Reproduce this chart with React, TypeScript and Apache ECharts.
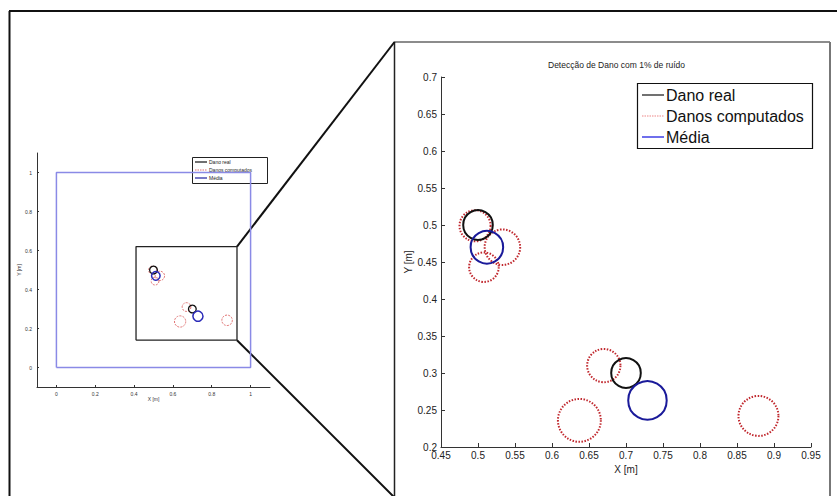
import React, { useEffect, useRef } from "react";
import * as echarts from "echarts";

// ---- data ----
const BIG_X_TICKS = [0.45, 0.5, 0.55, 0.6, 0.65, 0.7, 0.75, 0.8, 0.85, 0.9, 0.95];
const BIG_Y_TICKS = [0.2, 0.25, 0.3, 0.35, 0.4, 0.45, 0.5, 0.55, 0.6, 0.65, 0.7];
const SMALL_TICKS = [0, 0.2, 0.4, 0.6, 0.8, 1];

// [x, y, radius] in metres
const realDamages = [
  [0.5, 0.5, 0.02],
  [0.7, 0.3, 0.02],
];
const computedDamages = [
  [0.496, 0.499, 0.021],
  [0.533, 0.47, 0.024],
  [0.508, 0.443, 0.02],
  [0.67, 0.31, 0.0225],
  [0.637, 0.236, 0.029],
  [0.879, 0.242, 0.027],
];
const meanDamages = [
  [0.512, 0.47, 0.022],
  [0.729, 0.263, 0.026],
];
const plateOutline = [
  [0, 0],
  [1, 0],
  [1, 1],
  [0, 1],
  [0, 0],
];
const zoomWindow = [
  [0.41, 0.14],
  [0.93, 0.14],
  [0.93, 0.62],
  [0.41, 0.62],
  [0.41, 0.14],
];
const legendNames = ["Dano real", "Danos computados", "Média"];
const titleText = "Detecção de Dano com 1% de ruído";

const FONT = "'Liberation Sans', Arial, sans-serif";

function circleSeries(data: number[][], grid: number, stroke: string, lineWidth: number, dash?: number[]) {
  return {
    type: "custom",
    xAxisIndex: grid,
    yAxisIndex: grid,
    data,
    encode: { x: 0, y: 1 },
    silent: true,
    renderItem: (_p: any, api: any) => {
      const c = api.coord([api.value(0), api.value(1)]);
      const s = api.size([api.value(2), api.value(2)]);
      return {
        type: "circle",
        shape: { cx: c[0], cy: c[1], r: s[0] },
        style: { fill: "none", stroke, lineWidth, lineDash: dash },
      };
    },
  };
}

const fmt = (v: number) => String(+v.toFixed(2));

export default function App() {
  const ref = useRef<HTMLDivElement>(null);
  useEffect(() => {
    const chart = echarts.init(ref.current!, null, { renderer: "svg" });
    const axisLine = { show: true, onZero: false, lineStyle: { color: "#333", width: 1 } };
    chart.setOption({
      animation: false,
      backgroundColor: "#fff",
      textStyle: { fontFamily: FONT },
      title: {
        text: titleText,
        left: 548,
        top: 60,
        padding: 0,
        textStyle: { fontSize: 8.5, fontWeight: "normal", color: "#222", fontFamily: FONT },
      },
      grid: [
        { left: 441, top: 77, width: 370, height: 370 },
        { left: 37, top: 153, width: 233, height: 234 },
      ],
      xAxis: [
        {
          type: "value",
          gridIndex: 0,
          min: 0.45,
          max: 0.95,
          interval: 0.05,
          axisLine,
          axisTick: { inside: true, length: 4, customValues: BIG_X_TICKS, lineStyle: { color: "#333" } },
          axisLabel: { fontSize: 10, color: "#222", margin: 3, customValues: BIG_X_TICKS, formatter: fmt },
          splitLine: { show: false },
          name: "X [m]",
          nameLocation: "middle",
          nameGap: 15,
          nameTextStyle: { fontSize: 10, color: "#222" },
        },
        {
          type: "value",
          gridIndex: 1,
          min: -0.1,
          max: 1.1,
          axisLine,
          axisTick: { inside: true, length: 2, customValues: SMALL_TICKS, lineStyle: { color: "#333" } },
          axisLabel: { fontSize: 5, color: "#333", margin: 4, customValues: SMALL_TICKS, formatter: fmt },
          splitLine: { show: false },
          name: "X [m]",
          nameLocation: "middle",
          nameGap: 9,
          nameTextStyle: { fontSize: 5, color: "#333" },
        },
      ],
      yAxis: [
        {
          type: "value",
          gridIndex: 0,
          min: 0.2,
          max: 0.7,
          interval: 0.05,
          axisLine,
          axisTick: { inside: true, length: 4, customValues: BIG_Y_TICKS, lineStyle: { color: "#333" } },
          axisLabel: { fontSize: 10, color: "#222", margin: 4, customValues: BIG_Y_TICKS, formatter: fmt },
          splitLine: { show: false },
          name: "Y [m]",
          nameLocation: "middle",
          nameGap: 28,
          nameTextStyle: { fontSize: 10, color: "#222" },
        },
        {
          type: "value",
          gridIndex: 1,
          min: -0.1,
          max: 1.1,
          axisLine,
          axisTick: { inside: true, length: 2, customValues: SMALL_TICKS, lineStyle: { color: "#333" } },
          axisLabel: { fontSize: 5, color: "#333", margin: 5, customValues: SMALL_TICKS, formatter: fmt },
          splitLine: { show: false },
          name: "Y [m]",
          nameLocation: "middle",
          nameGap: 13,
          nameTextStyle: { fontSize: 5, color: "#333" },
        },
      ],
      series: [
        circleSeries(computedDamages, 0, "#c0272d", 2, [1.5, 1.5]),
        circleSeries(realDamages, 0, "#111", 2),
        circleSeries(meanDamages, 0, "#1a1a9a", 2),
        {
          type: "line",
          xAxisIndex: 1,
          yAxisIndex: 1,
          data: plateOutline,
          showSymbol: false,
          silent: true,
          lineStyle: { color: "#8a8ae6", width: 1.5 },
        },
        {
          type: "line",
          xAxisIndex: 1,
          yAxisIndex: 1,
          data: zoomWindow,
          showSymbol: false,
          silent: true,
          lineStyle: { color: "#222", width: 1.3 },
        },
        circleSeries(computedDamages, 1, "#e07070", 1, [2, 1.2]),
        circleSeries(realDamages, 1, "#111", 1.3),
        circleSeries(meanDamages, 1, "#2a2ab8", 1.5),
      ],
    });

    const pTop = chart.convertToPixel({ gridIndex: 1 } as any, [zoomWindow[2][0], zoomWindow[2][1]]) as number[];
    const pBot = chart.convertToPixel({ gridIndex: 1 } as any, [zoomWindow[1][0], zoomWindow[1][1]]) as number[];

    const legendColors = ["#111", "#e88", "#1010e0"];
    const legendDash: (number[] | undefined)[] = [undefined, [1.5, 1], undefined];
    const smallColors = ["#111", "#e07070", "#2020a0"];

    chart.setOption({
      graphic: [
        // outer frame
        { type: "line", shape: { x1: 9, y1: 11, x2: 837, y2: 11 }, style: { stroke: "#111", lineWidth: 2 } },
        { type: "line", shape: { x1: 9.5, y1: 11, x2: 9.5, y2: 496 }, style: { stroke: "#111", lineWidth: 2 } },
        // zoom panel frame
        { type: "line", shape: { x1: 394, y1: 42, x2: 830, y2: 42 }, style: { stroke: "#666", lineWidth: 1.5 } },
        { type: "line", shape: { x1: 830, y1: 42, x2: 830, y2: 496 }, style: { stroke: "#777", lineWidth: 2 } },
        { type: "line", shape: { x1: 394.5, y1: 42, x2: 394.5, y2: 496 }, style: { stroke: "#222", lineWidth: 1.5 } },
        // connectors
        { type: "line", shape: { x1: pTop[0], y1: pTop[1], x2: 394.5, y2: 42 }, style: { stroke: "#111", lineWidth: 2 } },
        { type: "line", shape: { x1: pBot[0], y1: pBot[1], x2: 394, y2: 497 }, style: { stroke: "#111", lineWidth: 2 } },
        // big legend
        { type: "rect", shape: { x: 637.5, y: 83.5, width: 175, height: 65 }, style: { fill: "#fff", stroke: "#111", lineWidth: 1.2 } },
        ...legendNames.flatMap((n, i) => [
          {
            type: "line",
            shape: { x1: 642, y1: 95 + i * 21, x2: 664, y2: 95 + i * 21 },
            style: { stroke: legendColors[i], lineWidth: 1.2, lineDash: legendDash[i] },
          },
          {
            type: "text",
            x: 666,
            y: 95 + i * 21,
            style: { text: n, fontSize: 16, fontFamily: FONT, fill: "#111", verticalAlign: "middle" },
          },
        ]),
        // small legend
        { type: "rect", shape: { x: 192.5, y: 157.5, width: 75, height: 26 }, style: { fill: "#fff", stroke: "#222", lineWidth: 1 } },
        ...legendNames.flatMap((n, i) => [
          {
            type: "line",
            shape: { x1: 195, y1: 162 + i * 8, x2: 207, y2: 162 + i * 8 },
            style: { stroke: smallColors[i], lineWidth: 1.2, lineDash: i === 1 ? [1.5, 1] : undefined },
          },
          {
            type: "text",
            x: 209,
            y: 162 + i * 8,
            style: { text: n, fontSize: 5, fontFamily: FONT, fill: "#222", verticalAlign: "middle" },
          },
        ]),
      ],
    });

    return () => chart.dispose();
  }, []);
  return (
    <div
      ref={ref}
      style={{ position: "fixed", left: 0, top: 0, width: 837, height: 496, background: "#fff" }}
    />
  );
}
